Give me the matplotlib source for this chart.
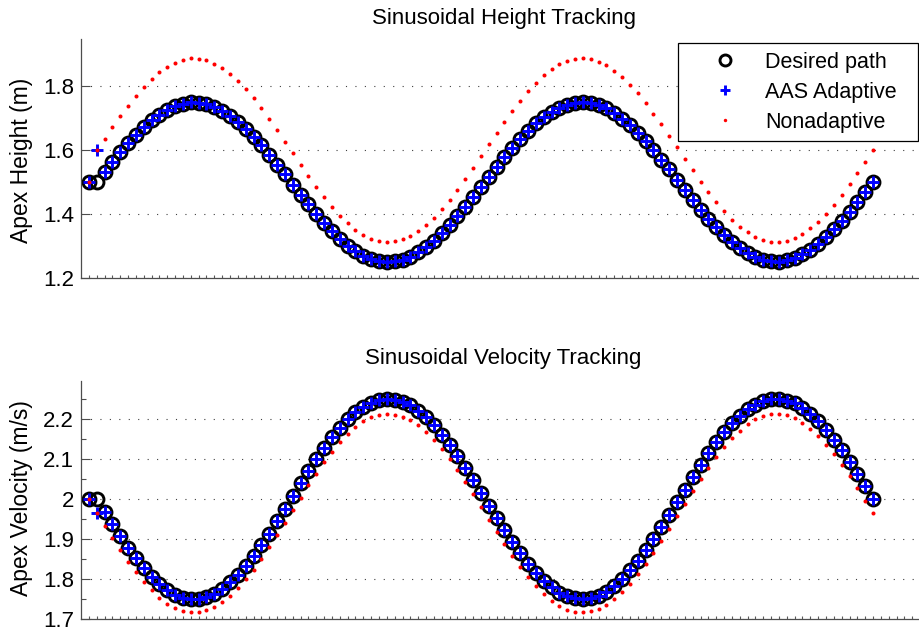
import matplotlib
matplotlib.use('Agg')
from matplotlib import pyplot as plt
from matplotlib.ticker import FixedLocator

plt.rcParams['font.family'] = ['Liberation Sans', 'DejaVu Sans']

# step index of each jump
steps = list(range(1, 102))

desired_height = [
    1.500, 1.500, 1.532, 1.563, 1.593, 1.622, 1.648, 1.673, 1.694, 1.712,
    1.727, 1.739, 1.746, 1.750, 1.749, 1.745, 1.736, 1.724, 1.708, 1.689,
    1.667, 1.642, 1.615, 1.586, 1.555, 1.524, 1.492, 1.460, 1.430, 1.400,
    1.372, 1.345, 1.322, 1.301, 1.283, 1.269, 1.259, 1.253, 1.250, 1.252,
    1.257, 1.266, 1.280, 1.296, 1.316, 1.339, 1.365, 1.393, 1.422, 1.453,
    1.484, 1.516, 1.547, 1.578, 1.607, 1.635, 1.661, 1.684, 1.704, 1.720,
    1.734, 1.743, 1.748, 1.750, 1.747, 1.741, 1.731, 1.717, 1.699, 1.678,
    1.655, 1.628, 1.600, 1.570, 1.540, 1.508, 1.476, 1.445, 1.414, 1.385,
    1.358, 1.333, 1.311, 1.292, 1.276, 1.264, 1.255, 1.251, 1.250, 1.254,
    1.261, 1.273, 1.288, 1.306, 1.327, 1.352, 1.378, 1.407, 1.437, 1.468,
    1.500,
]
# adaptive controller: one bad jump, then on the path
aas_height = [1.500, 1.600] + desired_height[2:]
nonadaptive_height = [
    1.500, 1.600, 1.636, 1.672, 1.707, 1.740, 1.771, 1.799, 1.824, 1.845,
    1.862, 1.875, 1.884, 1.888, 1.887, 1.882, 1.872, 1.858, 1.840, 1.818,
    1.792, 1.763, 1.732, 1.699, 1.663, 1.627, 1.591, 1.554, 1.519, 1.485,
    1.452, 1.422, 1.395, 1.371, 1.351, 1.334, 1.322, 1.315, 1.312, 1.314,
    1.320, 1.331, 1.346, 1.365, 1.388, 1.415, 1.444, 1.476, 1.510, 1.545,
    1.582, 1.618, 1.655, 1.690, 1.724, 1.756, 1.785, 1.812, 1.835, 1.854,
    1.869, 1.880, 1.886, 1.888, 1.885, 1.878, 1.866, 1.849, 1.829, 1.805,
    1.778, 1.748, 1.715, 1.681, 1.646, 1.609, 1.573, 1.537, 1.501, 1.468,
    1.437, 1.408, 1.382, 1.360, 1.342, 1.328, 1.318, 1.313, 1.312, 1.316,
    1.325, 1.338, 1.355, 1.376, 1.401, 1.429, 1.460, 1.493, 1.528, 1.564,
    1.600,
]

desired_velocity = [
    2.000, 2.000, 1.968, 1.937, 1.907, 1.878, 1.852, 1.827, 1.806, 1.788,
    1.773, 1.761, 1.754, 1.750, 1.751, 1.755, 1.764, 1.776, 1.792, 1.811,
    1.833, 1.858, 1.885, 1.914, 1.945, 1.976, 2.008, 2.040, 2.070, 2.100,
    2.128, 2.155, 2.178, 2.199, 2.217, 2.231, 2.241, 2.247, 2.250, 2.248,
    2.243, 2.234, 2.220, 2.204, 2.184, 2.161, 2.135, 2.107, 2.078, 2.047,
    2.016, 1.984, 1.953, 1.922, 1.893, 1.865, 1.839, 1.816, 1.796, 1.780,
    1.766, 1.757, 1.752, 1.750, 1.753, 1.759, 1.769, 1.783, 1.801, 1.822,
    1.845, 1.872, 1.900, 1.930, 1.960, 1.992, 2.024, 2.055, 2.086, 2.115,
    2.142, 2.167, 2.189, 2.208, 2.224, 2.236, 2.245, 2.249, 2.250, 2.246,
    2.239, 2.227, 2.212, 2.194, 2.173, 2.148, 2.122, 2.093, 2.063, 2.032,
    2.000,
]
aas_velocity = [2.000, 1.965] + desired_velocity[2:]
nonadaptive_velocity = [
    2.000, 1.965, 1.934, 1.903, 1.873, 1.844, 1.818, 1.794, 1.773, 1.754,
    1.739, 1.728, 1.721, 1.717, 1.718, 1.722, 1.731, 1.743, 1.759, 1.778,
    1.800, 1.824, 1.851, 1.880, 1.910, 1.941, 1.973, 2.004, 2.035, 2.064,
    2.092, 2.118, 2.142, 2.162, 2.180, 2.194, 2.204, 2.210, 2.213, 2.211,
    2.206, 2.197, 2.184, 2.167, 2.147, 2.124, 2.099, 2.072, 2.042, 2.012,
    1.981, 1.949, 1.918, 1.888, 1.858, 1.831, 1.806, 1.783, 1.763, 1.746,
    1.733, 1.724, 1.719, 1.717, 1.720, 1.726, 1.736, 1.750, 1.768, 1.788,
    1.812, 1.838, 1.866, 1.895, 1.926, 1.957, 1.989, 2.020, 2.050, 2.079,
    2.106, 2.130, 2.152, 2.171, 2.187, 2.199, 2.208, 2.212, 2.213, 2.209,
    2.202, 2.191, 2.176, 2.157, 2.136, 2.112, 2.086, 2.057, 2.027, 1.996,
    1.965,
]

height_ticks = [1.2, 1.4, 1.6, 1.8]
height_labels = ['1.2', '1.4', '1.6', '1.8']
velocity_ticks = [1.7, 1.8, 1.9, 2.0, 2.1, 2.2]
velocity_labels = ['1.7', '1.8', '1.9', '2', '2.1', '2.2']
velocity_minor = [1.75, 1.85, 1.95, 2.05, 2.15, 2.25]

W, H = 920, 634
fig = plt.figure(figsize=(W / 100, H / 100), dpi=100)


def px_axes(left, top, right, bottom):
    return fig.add_axes([left / W, 1 - bottom / H, (right - left) / W, (bottom - top) / H])


def style_axes(ax):
    for side in ['top', 'right']:
        ax.spines[side].set_visible(False)
    for side in ['left', 'bottom']:
        ax.spines[side].set_color('0.3')
        ax.spines[side].set_linewidth(0.9)
    ax.set_xlim(0, 107.75)
    ax.set_xticks(range(1, 108))
    ax.set_xticklabels([])
    ax.tick_params(axis='x', direction='in', length=2.2, width=0.8, color='0.35')
    ax.tick_params(axis='y', which='major', direction='in', length=6.5, width=0.8,
                   color='0.3', labelsize=16, pad=5)
    ax.tick_params(axis='y', which='minor', direction='in', length=3.5, width=0.8, color='0.3')
    ax.grid(axis='y', which='major', color='0.25', linewidth=0.8, linestyle=(0, (1, 7.5)))
    ax.set_axisbelow(True)


def draw_series(ax, desired, aas, nonadaptive):
    ax.plot(steps, desired, linestyle='none', marker='o', markersize=9.3,
            markerfacecolor='none', markeredgecolor='k', markeredgewidth=2.1,
            label='Desired path')
    ax.plot(steps, aas, linestyle='none', marker='+', markersize=8.3,
            color='#0000ff', markeredgewidth=2.1, label='AAS Adaptive')
    ax.plot(steps, nonadaptive, linestyle='none', marker='o', markersize=2.9,
            color='#ff0000', markeredgewidth=0, label='Nonadaptive')


# apex height
ax1 = px_axes(81, 39, 926, 277.7)
style_axes(ax1)
draw_series(ax1, desired_height, aas_height, nonadaptive_height)
ax1.set_ylim(1.2, 1.949)
ax1.set_yticks(height_ticks)
ax1.set_yticklabels(height_labels)
ax1.set_title('Sinusoidal Height Tracking', fontsize=16, pad=11)

leg = ax1.legend(loc='upper left', bbox_to_anchor=(678 / W, 1 - 43 / H, 240 / W, 0.0),
                 bbox_transform=fig.transFigure, mode='expand', borderaxespad=0,
                 fontsize=15.5, numpoints=1, handlelength=3.6, handletextpad=0.05,
                 labelspacing=0.42, borderpad=0.4, fancybox=False, framealpha=1)
leg.get_frame().set_edgecolor('k')
leg.get_frame().set_linewidth(0.9)
for h in leg.legend_handles:
    h.set_markersize(h.get_markersize() * 0.85)

# apex velocity
ax2 = px_axes(81, 381, 926, 619.3)
style_axes(ax2)
draw_series(ax2, desired_velocity, aas_velocity, nonadaptive_velocity)
ax2.set_ylim(1.7, 2.295)
ax2.set_yticks(velocity_ticks)
ax2.set_yticklabels(velocity_labels)
ax2.yaxis.set_minor_locator(FixedLocator(velocity_minor))
ax2.set_title('Sinusoidal Velocity Tracking', fontsize=16, pad=12)

fig.text(22 / W, 1 - 160 / H, 'Apex Height (m)', rotation=90, ha='center', va='center', fontsize=16.5)
fig.text(22 / W, 1 - 498 / H, 'Apex Velocity (m/s)', rotation=90, ha='center', va='center', fontsize=16.5)

fig.savefig('out.png', dpi=100)
